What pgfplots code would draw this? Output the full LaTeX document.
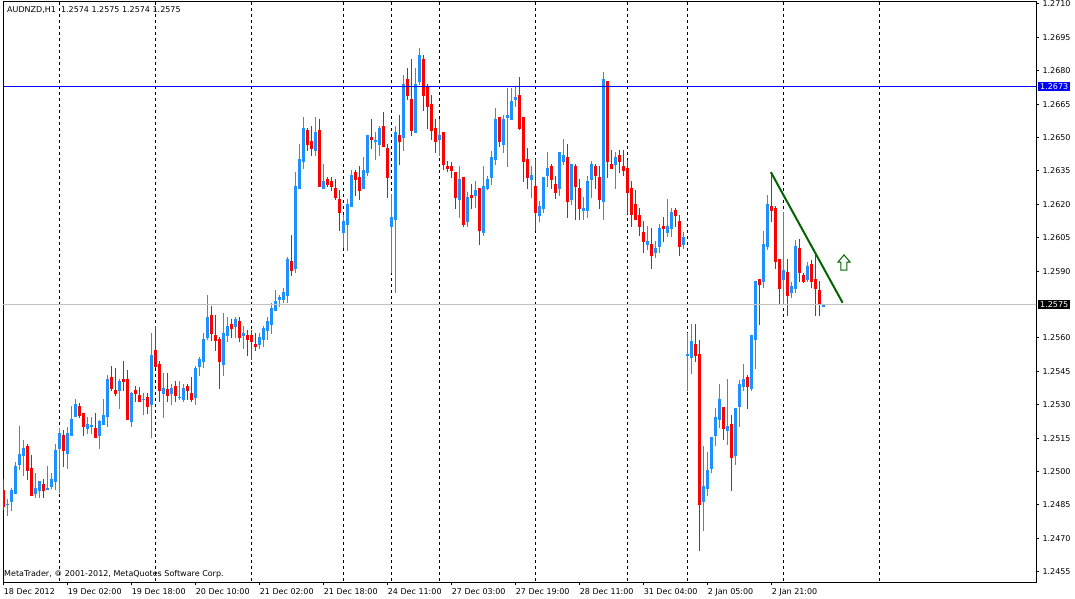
\documentclass[border=0pt]{standalone}
\usepackage{pgfplots}
\pgfplotsset{compat=1.18}
\usepackage{pgfplotstable}
\usepackage{fontspec}
\setmainfont{DejaVu Sans}
\definecolor{bull}{RGB}{30,144,255}
\definecolor{bear}{RGB}{255,0,0}
\definecolor{dkgreen}{RGB}{0,100,0}
\definecolor{silverc}{RGB}{192,192,192}
\newcommand{\fs}{\fontsize{8pt}{9.6pt}\selectfont}

\pgfplotstableread{
x o h l c
1 1.24849 1.24875 1.24800 1.24855
2 1.24863 1.24924 1.24824 1.24917
3 1.24899 1.25045 1.24899 1.25025
4 1.25031 1.25204 1.25007 1.25081
5 1.25071 1.25144 1.24981 1.25105
8 1.24899 1.24995 1.24882 1.24926
9 1.24912 1.24956 1.24882 1.24956
11 1.24919 1.25025 1.24917 1.24925
12 1.24932 1.24995 1.24921 1.24966
13 1.24953 1.25123 1.24917 1.25096
14 1.25102 1.25195 1.24902 1.25171
16 1.25080 1.25198 1.25013 1.25171
17 1.25161 1.25294 1.25161 1.25236
18 1.25243 1.25324 1.25243 1.25303
21 1.25192 1.25245 1.25170 1.25213
22 1.25201 1.25245 1.25170 1.25207
24 1.25161 1.25231 1.25102 1.25227
25 1.25210 1.25325 1.25210 1.25254
26 1.25243 1.25433 1.25201 1.25414
29 1.25363 1.25415 1.25282 1.25406
32 1.25224 1.25358 1.25201 1.25351
35 1.25322 1.25351 1.25252 1.25328
37 1.25300 1.25623 1.25152 1.25523
40 1.25349 1.25442 1.25242 1.25375
42 1.25349 1.25393 1.25300 1.25375
44 1.25331 1.25407 1.25322 1.25337
45 1.25322 1.25393 1.25313 1.25375
48 1.25332 1.25474 1.25301 1.25465
49 1.25471 1.25516 1.25431 1.25504
50 1.25494 1.25621 1.25464 1.25594
51 1.25602 1.25792 1.25591 1.25693
55 1.25480 1.25711 1.25431 1.25621
56 1.25609 1.25693 1.25584 1.25654
58 1.25651 1.25696 1.25602 1.25684
60 1.25609 1.25654 1.25552 1.25621
64 1.25570 1.25621 1.25552 1.25603
65 1.25591 1.25654 1.25561 1.25645
66 1.25633 1.25696 1.25591 1.25678
67 1.25660 1.25756 1.25618 1.25735
68 1.25721 1.25816 1.25721 1.25766
69 1.25771 1.25793 1.25741 1.25786
70 1.25771 1.25826 1.25759 1.25807
71 1.25790 1.25965 1.25759 1.25955
73 1.25910 1.26347 1.25890 1.26283
74 1.26271 1.26471 1.26271 1.26402
75 1.26392 1.26594 1.26359 1.26543
78 1.26441 1.26594 1.26419 1.26525
80 1.26271 1.26381 1.26271 1.26307
85 1.26073 1.26151 1.26002 1.26124
86 1.26107 1.26222 1.25992 1.26202
87 1.26190 1.26354 1.26190 1.26332
90 1.26270 1.26414 1.26270 1.26354
91 1.26342 1.26510 1.26329 1.26510
93 1.26482 1.26525 1.26399 1.26488
94 1.26466 1.26552 1.26417 1.26543
97 1.26100 1.26246 1.25893 1.26145
98 1.26130 1.26552 1.25803 1.26525
100 1.26500 1.26782 1.26440 1.26740
103 1.26520 1.26812 1.26520 1.26740
104 1.26749 1.26902 1.26736 1.26871
109 1.26489 1.26583 1.26419 1.26511
114 1.26220 1.26372 1.26139 1.26314
116 1.26122 1.26255 1.26100 1.26233
118 1.26237 1.26305 1.26184 1.26264
120 1.26073 1.26372 1.26059 1.26282
121 1.26270 1.26327 1.26264 1.26314
122 1.26320 1.26440 1.26287 1.26414
123 1.26399 1.26633 1.26377 1.26583
125 1.26466 1.26601 1.26431 1.26583
126 1.26588 1.26724 1.26369 1.26601
127 1.26579 1.26724 1.26579 1.26664
128 1.26668 1.26731 1.26638 1.26683
132 1.26310 1.26372 1.26230 1.26332
134 1.26149 1.26215 1.26120 1.26192
135 1.26180 1.26323 1.26162 1.26323
136 1.26327 1.26435 1.26279 1.26363
139 1.26270 1.26435 1.26239 1.26435
140 1.26391 1.26493 1.26378 1.26421
142 1.26221 1.26381 1.26198 1.26381
145 1.26171 1.26234 1.26131 1.26183
146 1.26171 1.26327 1.26140 1.26306
147 1.26311 1.26394 1.26230 1.26381
150 1.26212 1.26794 1.26131 1.26763
153 1.26378 1.26435 1.26270 1.26412
161 1.26019 1.26104 1.25996 1.26037
163 1.25983 1.26037 1.25960 1.26005
164 1.26010 1.26113 1.25983 1.26095
166 1.26073 1.26225 1.26055 1.26104
167 1.26091 1.26185 1.26055 1.26167
170 1.26018 1.26077 1.26000 1.26053
171 1.25520 1.25623 1.25363 1.25526
172 1.25511 1.25662 1.25438 1.25586
175 1.24864 1.25116 1.24734 1.24935
176 1.24923 1.25089 1.24891 1.25007
177 1.25012 1.25156 1.24992 1.25156
178 1.25161 1.25286 1.25116 1.25246
179 1.25233 1.25394 1.25197 1.25327
181 1.25183 1.25415 1.25120 1.25204
183 1.25071 1.25286 1.25030 1.25286
184 1.25291 1.25412 1.25201 1.25394
185 1.25381 1.25483 1.25363 1.25415
187 1.25372 1.25614 1.25363 1.25614
188 1.25591 1.25857 1.25462 1.25857
190 1.25853 1.26080 1.25823 1.26022
191 1.26010 1.26243 1.25995 1.26201
195 1.25860 1.26167 1.25749 1.25906
197 1.25803 1.25853 1.25781 1.25835
198 1.25821 1.26040 1.25803 1.26013
201 1.25860 1.25942 1.25853 1.25923
205 1.25740 1.25750 1.25740 1.25750
}\bulltab

\pgfplotstableread{
x o h l c
0 1.24917 1.24965 1.24827 1.24839
6 1.25114 1.25123 1.24962 1.25002
7 1.25016 1.25074 1.24891 1.24891
10 1.24944 1.24966 1.24882 1.24914
15 1.25162 1.25186 1.25022 1.25093
19 1.25294 1.25306 1.25240 1.25249
20 1.25261 1.25261 1.25161 1.25201
23 1.25195 1.25263 1.25152 1.25152
27 1.25423 1.25474 1.25361 1.25369
28 1.25366 1.25465 1.25340 1.25349
30 1.25415 1.25496 1.25361 1.25402
31 1.25414 1.25456 1.25233 1.25233
33 1.25366 1.25384 1.25314 1.25349
34 1.25342 1.25382 1.25314 1.25314
36 1.25333 1.25351 1.25258 1.25291
38 1.25546 1.25653 1.25463 1.25471
39 1.25483 1.25496 1.25314 1.25363
41 1.25369 1.25442 1.25314 1.25339
43 1.25384 1.25407 1.25313 1.25340
46 1.25384 1.25393 1.25322 1.25362
47 1.25352 1.25426 1.25313 1.25322
52 1.25702 1.25744 1.25588 1.25620
53 1.25612 1.25702 1.25543 1.25585
54 1.25594 1.25603 1.25372 1.25494
57 1.25663 1.25684 1.25602 1.25642
59 1.25676 1.25693 1.25584 1.25602
61 1.25612 1.25636 1.25521 1.25591
62 1.25612 1.25636 1.25501 1.25584
63 1.25573 1.25621 1.25543 1.25561
72 1.25946 1.26063 1.25880 1.25902
76 1.26534 1.26543 1.26441 1.26468
77 1.26485 1.26552 1.26419 1.26450
79 1.26534 1.26584 1.26280 1.26280
81 1.26314 1.26325 1.26280 1.26289
82 1.26305 1.26325 1.26262 1.26280
83 1.26274 1.26314 1.26220 1.26229
84 1.26226 1.26265 1.26082 1.26163
88 1.26345 1.26354 1.26239 1.26309
89 1.26324 1.26372 1.26220 1.26261
92 1.26502 1.26583 1.26450 1.26489
95 1.26552 1.26615 1.26459 1.26459
96 1.26453 1.26471 1.26228 1.26318
99 1.26511 1.26601 1.26377 1.26480
101 1.26763 1.26812 1.26669 1.26688
102 1.26673 1.26853 1.26508 1.26531
105 1.26853 1.26871 1.26619 1.26687
106 1.26728 1.26742 1.26538 1.26639
107 1.26651 1.26691 1.26489 1.26531
108 1.26543 1.26583 1.26432 1.26481
110 1.26525 1.26525 1.26354 1.26378
111 1.26372 1.26395 1.26347 1.26359
112 1.26372 1.26390 1.26318 1.26350
113 1.26345 1.26345 1.26179 1.26228
115 1.26323 1.26323 1.26100 1.26107
117 1.26242 1.26291 1.26179 1.26228
119 1.26273 1.26273 1.26019 1.26080
124 1.26592 1.26592 1.26459 1.26480
129 1.26692 1.26773 1.26534 1.26538
130 1.26592 1.26592 1.26301 1.26391
131 1.26403 1.26453 1.26270 1.26320
133 1.26282 1.26403 1.26082 1.26162
137 1.26372 1.26381 1.26270 1.26311
138 1.26291 1.26327 1.26225 1.26252
141 1.26412 1.26471 1.26140 1.26212
143 1.26372 1.26381 1.26131 1.26279
144 1.26275 1.26315 1.26131 1.26180
148 1.26372 1.26381 1.26270 1.26329
149 1.26323 1.26372 1.26180 1.26221
151 1.26754 1.26754 1.26320 1.26391
152 1.26381 1.26444 1.26360 1.26360
154 1.26421 1.26444 1.26342 1.26391
155 1.26372 1.26444 1.26329 1.26351
156 1.26363 1.26399 1.26158 1.26252
157 1.26275 1.26306 1.26099 1.26153
158 1.26203 1.26266 1.26131 1.26131
159 1.26153 1.26185 1.26059 1.26100
160 1.26077 1.26126 1.25983 1.26032
162 1.26023 1.26095 1.25911 1.25969
165 1.26104 1.26144 1.26032 1.26091
168 1.26176 1.26185 1.26100 1.26149
169 1.26126 1.26153 1.25969 1.26010
173 1.25572 1.25662 1.25493 1.25520
174 1.25530 1.25593 1.24644 1.24851
180 1.25291 1.25291 1.25143 1.25192
182 1.25215 1.25254 1.24914 1.25062
186 1.25424 1.25433 1.25282 1.25381
189 1.25866 1.25866 1.25659 1.25838
192 1.26192 1.26345 1.26122 1.26171
193 1.26183 1.26192 1.25911 1.25942
194 1.25956 1.25956 1.25749 1.25821
196 1.25897 1.25956 1.25700 1.25790
199 1.26004 1.26044 1.25853 1.25893
200 1.25883 1.25893 1.25848 1.25853
202 1.25932 1.25950 1.25823 1.25853
203 1.25865 1.25980 1.25700 1.25821
204 1.25815 1.25857 1.25700 1.25751
}\beartab

\begin{document}
\begin{tikzpicture}
\useasboundingbox (0,0) rectangle (1075pt,599pt);
\begin{axis}[
  at={(3pt,17pt)}, anchor=south west,
  scale only axis, width=1033pt, height=580pt,
  xmin=-0.075, xmax=258.2,
  ymin=1.24504, ymax=1.27109,
  axis line style={black, line width=1pt},
  xtick={0,16,32,48,64,80,96,112,128,144,160,176,192},
  xticklabels={18 Dec 2012,19 Dec 02:00,19 Dec 18:00,20 Dec 10:00,21 Dec 02:00,21 Dec 18:00,24 Dec 11:00,27 Dec 03:00,27 Dec 19:00,28 Dec 11:00,31 Dec 04:00,2 Jan 05:00,2 Jan 21:00},
  ytick={1.2455,1.2470,1.2485,1.2500,1.2515,1.2530,1.2545,1.2560,1.2590,1.2605,1.2620,1.2635,1.2650,1.2665,1.2680,1.2695,1.2710},
  xtick pos=bottom, ytick pos=right,
  tick align=outside, major tick length=3pt,
  tick style={black, line width=1pt},
  scaled y ticks=false,
  /pgf/number format/assume math mode=true,
  y tick label style={/pgf/number format/.cd, fixed, fixed zerofill, precision=4, /tikz/.cd, font=\fs, anchor=west},
  x tick label style={font=\fs, anchor=north west, xshift=-3pt},
  clip=true,
]
\pgfplotsinvokeforeach{14,38,62,85,97,109,133,156,171,195,219}{
  \addplot[black, line width=1pt, dash pattern=on 3pt off 3pt, forget plot] coordinates {(#1,1.27109) (#1,1.24504)};
}
% wicks
\addplot[draw=none, mark=none, forget plot, error bars/.cd, y dir=plus, y explicit, error mark=none, error bar style={solid, draw=bull, line width=1pt}]
  table[x=x, y=l, y error expr=\thisrow{h}-\thisrow{l}] {\bulltab};
\addplot[draw=none, mark=none, forget plot, error bars/.cd, y dir=plus, y explicit, error mark=none, error bar style={solid, draw=bear, line width=1pt}]
  table[x=x, y=l, y error expr=\thisrow{h}-\thisrow{l}] {\beartab};
% bodies
\addplot[draw=none, mark=none, forget plot, error bars/.cd, y dir=plus, y explicit, error mark=none, error bar style={solid, draw=bull, line width=3pt}]
  table[x=x, y=o, y error expr=\thisrow{c}-\thisrow{o}] {\bulltab};
\addplot[draw=none, mark=none, forget plot, error bars/.cd, y dir=plus, y explicit, error mark=none, error bar style={solid, draw=bear, line width=3pt}]
  table[x=x, y=c, y error expr=\thisrow{o}-\thisrow{c}] {\beartab};
% horizontal lines
\addplot[blue, line width=1pt, forget plot] coordinates {(-1,1.2673) (260,1.2673)};
\addplot[silverc, line width=1pt, forget plot] coordinates {(-1,1.2575) (260,1.2575)};
% trend line
\addplot[dkgreen, line width=2pt, forget plot] coordinates {(191.9,1.26345) (209.85,1.25758)};
% arrow
\addplot[dkgreen, line width=1pt, forget plot] coordinates {(210.2,1.25973) (211.7,1.25941) (210.9,1.25941) (210.9,1.25905) (209.4,1.25905) (209.4,1.25941) (208.7,1.25941)} -- cycle;
\coordinate (hlA) at (axis cs:258.2,1.2673);
\coordinate (hlB) at (axis cs:258.2,1.2575);
\end{axis}
\node[anchor=west, fill=blue, text=white, font=\fs, inner xsep=2pt, inner ysep=1.5pt, xshift=2pt] at (hlA) {1.2673};
\node[anchor=west, fill=black, text=white, font=\fs, inner xsep=2pt, inner ysep=1.5pt, xshift=2pt] at (hlB) {1.2575};
\node[anchor=west, inner sep=0pt, font=\fs] at (7pt,589pt) {AUDNZD,H1\ \ 1.2574 1.2575 1.2574 1.2575};
\node[anchor=west, inner sep=0pt, font=\fs] at (4pt,25pt) {MetaTrader, © 2001-2012, MetaQuotes Software Corp.};
\end{tikzpicture}
\end{document}
